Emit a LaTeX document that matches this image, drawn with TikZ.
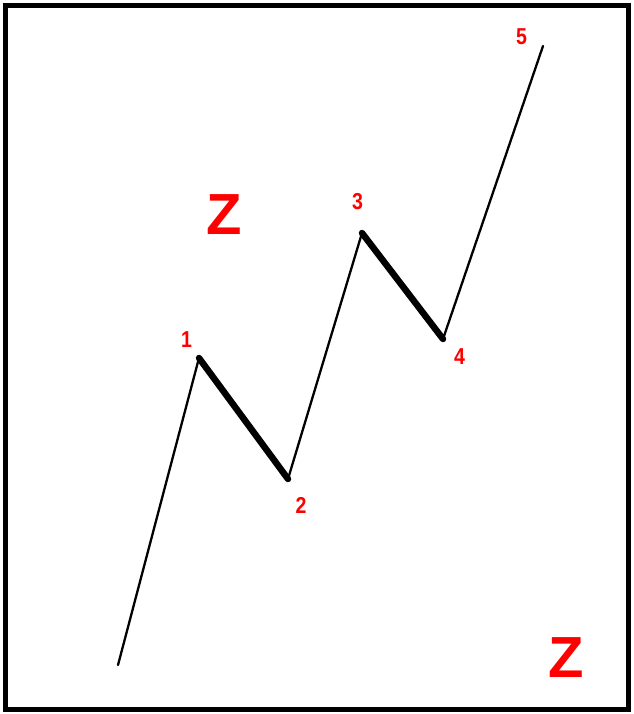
\documentclass[tikz,border=0pt]{standalone}
\usepackage{fontspec}
\setmainfont{Liberation Sans}
\begin{document}
\begin{tikzpicture}[x=1pt,y=-1pt,
  thinleg/.style={line width=2.3pt, line cap=round, line join=round},
  thickleg/.style={line width=6.5pt, line cap=round, line join=round},
  wavelabel/.style={text=red, font=\bfseries\fontsize{23}{23}\selectfont, inner sep=0pt, xscale=0.85},
  zlabel/.style={text=red, font=\bfseries\fontsize{58}{58}\selectfont, inner sep=0pt}]
\useasboundingbox (0,0) rectangle (633,714);
\fill[white] (0,0) rectangle (633,714);
\draw[line width=4.5pt] (5.5,5.5) rectangle (628.5,709.5);
\coordinate (p0) at (118,665);
\coordinate (p1) at (199,358);
\coordinate (p2) at (288,479);
\coordinate (p3) at (362,233);
\coordinate (p4) at (443,339);
\coordinate (p5) at (543,46);
\draw[thinleg] (p0) -- (p1);
\draw[thickleg] (p1) -- (p2);
\draw[thinleg] (p2) -- (p3);
\draw[thickleg] (p3) -- (p4);
\draw[thinleg] (p4) -- (p5);
\node[wavelabel] (l1) at (186.5,340) {1};
\node[wavelabel] (l2) at (301,505) {2};
\node[wavelabel] (l3) at (357.5,202) {3};
\node[wavelabel] (l4) at (459.5,357) {4};
\node[wavelabel] (l5) at (521.5,37) {5};
\node[zlabel] (z1) at (224,215) {Z};
\node[zlabel] (z2) at (566,658) {Z};
\end{tikzpicture}
\end{document}
